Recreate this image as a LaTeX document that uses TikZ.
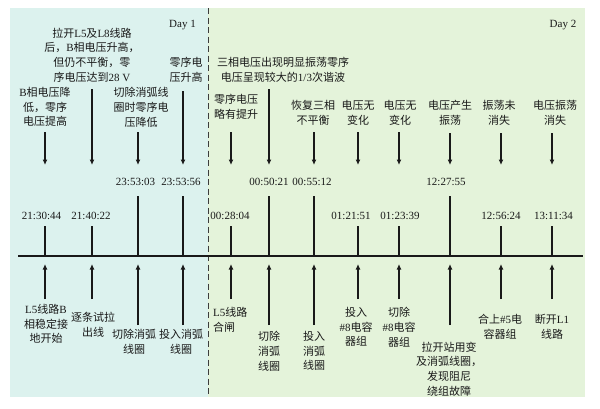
\documentclass[tikz,border=0pt]{standalone}
\usepackage{fontspec}
\setmainfont{Liberation Serif}
\newfontfamily\cjkf{Noto Sans CJK SC}
\newfontfamily\latf{Liberation Serif}
\newcommand{\lnm}[1]{{\latf #1}}
\usetikzlibrary{arrows.meta}
\definecolor{bgA}{RGB}{220,242,238}
\definecolor{bgB}{RGB}{228,243,218}
\definecolor{txt}{RGB}{25,25,25}
\begin{document}
\begin{tikzpicture}[x=1pt,y=-1pt,
  cj/.style={font=\cjkf\fontsize{11}{14.8}\selectfont, align=center, inner sep=0pt, text=txt},
  tm/.style={font=\fontsize{11}{13}\selectfont, inner sep=0pt, text=txt},
  ln/.style={line width=1.3pt, draw=txt},
  axisline/.style={line width=1.6pt, draw=txt},
  arr/.style={line width=1.3pt, draw=txt, -{Latex[length=5.5pt,width=5pt]}},
  sep/.style={line width=1pt, draw=txt!85, dash pattern=on 6pt off 3.5pt},
]
\useasboundingbox (0,0) rectangle (600,408);
\fill[bgA] (10,8) rectangle (208,397);
\fill[bgB] (208,8) rectangle (585,397);
\coordinate (dtop) at (208,8);
\coordinate (dbot) at (208,397);
\draw[sep] (dtop) -- (dbot);
\coordinate (ax0) at (18,256);
\coordinate (ax1) at (583,256);
\draw[axisline] (ax0) -- (ax1);

\foreach \i/\x/\h/\ds/\bt in {1/45/226/132/299, 2/92/226/89/299, 3/138/196/132/325,
  4/183/196/91/325, 5/231/226/132/299, 6/269/196/89/325, 7/314/196/132/325,
  8/358/226/132/299, 9/399/226/132/299, 10/450/196/133/325, 11/501/226/133/299,
  12/552/226/133/299}{
  \coordinate (u\i) at (\x,\ds);
  \coordinate (v\i) at (\x,165);
  \draw[arr] (u\i) -- (v\i);
  \coordinate (a\i) at (\x,256);
  \coordinate (k\i) at (\x,\h);
  \draw[ln] (a\i) -- (k\i);
  \coordinate (b\i) at (\x,\bt);
  \coordinate (c\i) at (\x,264);
  \draw[arr] (b\i) -- (c\i);
}

% day labels
\node[tm] (day1) at (182.5,25) {Day 1};
\node[tm] (day2) at (563,25) {Day 2};

% time labels
\node[tm] (tl1) at (41.5,216) {21:30:44};
\node[tm] (tl2) at (91,216) {21:40:22};
\node[tm] (tl3) at (135.5,182) {23:53:03};
\node[tm] (tl4) at (181,182) {23:53:56};
\node[tm] (tl5) at (230,216) {00:28:04};
\node[tm] (tl6) at (269,182) {00:50:21};
\node[tm] (tl7) at (312,182) {00:55:12};
\node[tm] (tl8) at (351,216) {01:21:51};
\node[tm] (tl9) at (400,216) {01:23:39};
\node[tm] (tl10) at (446,182) {12:27:55};
\node[tm] (tl11) at (501,216) {12:56:24};
\node[tm] (tl12) at (553.5,216) {13:11:34};

% top labels
\node[cj] (T1) at (45,107) {\lnm{B}相电压降\\低，零序\\电压提高};
\node[cj] (T2) at (92,55) {拉开\lnm{L5}及\lnm{L8}线路\\后，\lnm{B}相电压升高，\\但仍不平衡，零\\序电压达到\lnm{28 V}};
\node[cj] (T3) at (141,107) {切除消弧线\\圈时零序电\\压降低};
\node[cj] (T4) at (186,70) {零序电\\压升高};
\node[cj] (T5) at (236,106.5) {零序电压\\略有提升};
\node[cj] (T6) at (283,70) {三相电压出现明显振荡零序\\电压呈现较大的\lnm{1/3}次谐波};
\node[cj] (T7) at (313,113) {恢复三相\\不平衡};
\node[cj] (T8) at (358,113) {电压无\\变化};
\node[cj] (T9) at (400,113) {电压无\\变化};
\node[cj] (T10) at (450,113) {电压产生\\振荡};
\node[cj] (T11) at (499,113) {振荡未\\消失};
\node[cj] (T12) at (555,113) {电压振荡\\消失};

% bottom labels
\node[cj] (B1) at (46,324) {\lnm{L5}线路\lnm{B}\\相稳定接\\地开始};
\node[cj] (B2) at (93,325) {逐条试拉\\出线};
\node[cj] (B3) at (134,342) {切除消弧\\线圈};
\node[cj] (B4) at (181,342) {投入消弧\\线圈};
\node[cj, align=left, anchor=west] (B5) at (213,319.5) {\lnm{L5}线路\\合闸};
\node[cj] (B6) at (269,351) {切除\\消弧\\线圈};
\node[cj] (B7) at (314,351) {投入\\消弧\\线圈};
\node[cj] (B8) at (356,327) {投入\\\lnm{\#8}电容\\器组};
\node[cj] (B9) at (399,327) {切除\\\lnm{\#8}电容\\器组};
\node[cj] (B10) at (449,369) {拉开站用变\\及消弧线圈，\\发现阻尼\\绕组故障};
\node[cj] (B11) at (500,327) {合上\lnm{\#5}电\\容器组};
\node[cj] (B12) at (552,327) {断开\lnm{L1}\\线路};
\end{tikzpicture}
\end{document}
